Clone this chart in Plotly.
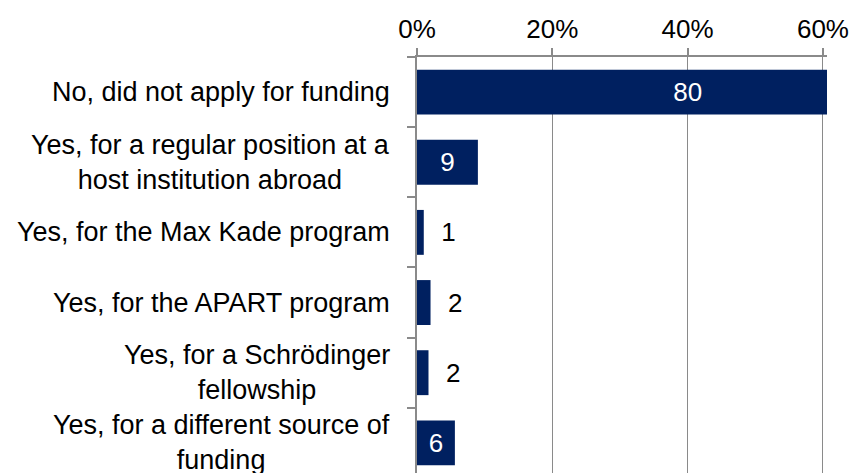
import plotly.graph_objects as go

categories = [
    "No, did not apply for funding",
    "Yes, for a regular position at a<br>host institution abroad",
    "Yes, for the Max Kade program",
    "Yes, for the APART program",
    "Yes, for a Schrödinger<br>fellowship",
    "Yes, for a different source of<br>funding",
]
percent_values = [80.0, 9.0, 1.0, 2.0, 1.7, 5.6]
count_labels = [80, 9, 1, 2, 2, 6]
label_positions = ["inside", "inside", "outside", "outside", "outside", "inside"]
x_ticks = [0, 20, 40, 60]
x_tick_labels = ["0%", "20%", "40%", "60%"]

FONT = "Liberation Sans, Arial, sans-serif"
NAVY = "#002060"
GREY = "#8a8a8a"

texts = [(f"  {c}" if p == "outside" else str(c)) for c, p in zip(count_labels, label_positions)]

fig = go.Figure()
fig.add_trace(go.Bar(
    y=categories,
    x=percent_values,
    orientation="h",
    marker=dict(color=NAVY, line=dict(width=0)),
    text=texts,
    textposition=label_positions,
    insidetextanchor="middle",
    insidetextfont=dict(color="white", size=26, family=FONT),
    outsidetextfont=dict(color="black", size=26, family=FONT),
    textangle=0,
    constraintext="none",
    cliponaxis=True,
    hoverinfo="skip",
))

for cat in categories:
    fig.add_annotation(
        x=0, xref="paper", xanchor="right", xshift=-25,
        y=cat, yref="y", yanchor="middle",
        text=cat, showarrow=False, align="center",
        font=dict(size=27, family=FONT, color="black"),
    )

fig.update_layout(
    width=850, height=473,
    margin=dict(l=417, r=23, t=57, b=0),
    paper_bgcolor="white", plot_bgcolor="white",
    showlegend=False,
    bargap=0.36,
    font=dict(family=FONT, size=26, color="black"),
    xaxis=dict(
        side="top",
        range=[0, 60.6],
        tickmode="array",
        tickvals=x_ticks,
        ticktext=x_tick_labels,
        ticklabeloverflow="allow",
        showgrid=True, gridcolor=GREY, gridwidth=1.3,
        showline=True, linecolor=GREY, linewidth=1.5,
        ticks="outside", ticklen=7, tickcolor=GREY, tickwidth=1.5,
        zeroline=False,
        automargin=False,
        tickfont=dict(size=26, family=FONT, color="black"),
    ),
    yaxis=dict(
        type="category",
        categoryorder="array", categoryarray=categories,
        range=[5.43, -0.5],
        showticklabels=False,
        tickson="boundaries",
        ticks="outside", ticklen=8, tickcolor=GREY, tickwidth=1.5,
        showgrid=False,
        showline=True, linecolor=GREY, linewidth=1.5,
        zeroline=False,
        automargin=False,
    ),
)

fig.write_html(
    "out.html",
    config={"displayModeBar": False},
    post_script="document.body.style.margin='0';document.body.style.overflow='hidden';",
)
